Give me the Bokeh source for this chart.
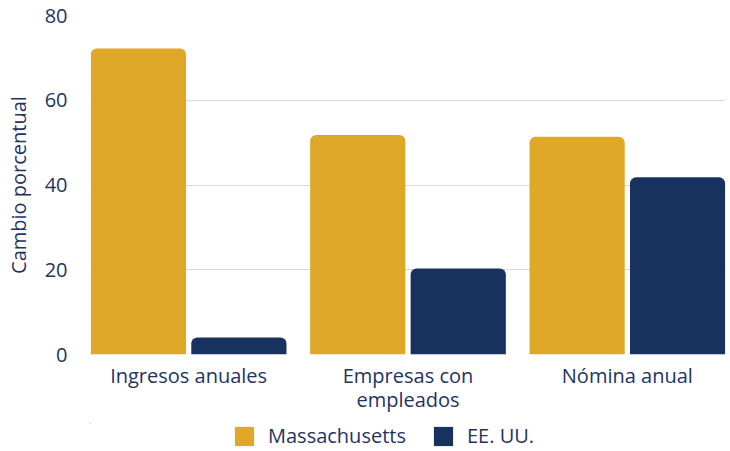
from bokeh.plotting import figure
from bokeh.layouts import column
from bokeh.models import ColumnDataSource, Legend, LegendItem, FixedTicker, Range1d
from bokeh.embed import file_html
from bokeh.resources import INLINE

categories = ["Ingresos anuales", "Empresas con\nempleados", "Nómina anual"]
massachusetts = [72.2, 51.8, 51.4]
eeuu = [4.0, 20.3, 41.8]
series_names = ["Massachusetts", "EE. UU."]
y_ticks = [0, 20, 40, 60, 80]

GOLD = "#DFA828"
NAVY = "#18325F"
TEXT = "#1F3462"
FONT = "Open Sans"

x = list(range(len(categories)))
offset = 0.229
bw = 0.434

p = figure(width=730, height=423, output_backend="svg", toolbar_location=None,
           x_range=Range1d(-0.4475, 2.4475), y_range=Range1d(0, 80),
           min_border_left=90, min_border_right=5, min_border_top=15, min_border_bottom=69)
p.outline_line_color = None

src_ma = ColumnDataSource(dict(x=[v - offset for v in x], top=massachusetts))
src_us = ColumnDataSource(dict(x=[v + offset for v in x], top=eeuu))
p.vbar(x="x", top="top", width=bw, source=src_ma, fill_color=GOLD, line_color=None,
       border_radius=(6, 6, 0, 0))
p.vbar(x="x", top="top", width=bw, source=src_us, fill_color=NAVY, line_color=None,
       border_radius=(6, 6, 0, 0))

p.yaxis.ticker = FixedTicker(ticks=y_ticks)
p.xaxis.ticker = FixedTicker(ticks=x)
p.xaxis.major_label_overrides = {i: c for i, c in enumerate(categories)}
for ax in (p.xaxis[0], p.yaxis[0]):
    ax.axis_line_color = None
    ax.major_tick_line_color = None
    ax.minor_tick_line_color = None
    ax.major_label_text_font = FONT
    ax.major_label_text_font_size = "20px"
    ax.major_label_text_color = TEXT
p.xaxis.major_label_standoff = 1
p.xaxis.major_label_text_line_height = 0.9
p.yaxis.major_label_standoff = 17
p.yaxis.axis_label = "Cambio porcentual"
p.yaxis.axis_label_text_font = FONT
p.yaxis.axis_label_text_font_size = "20px"
p.yaxis.axis_label_text_font_style = "normal"
p.yaxis.axis_label_text_color = TEXT
p.yaxis.axis_label_standoff = 10
p.xgrid.grid_line_color = None
p.ygrid.grid_line_color = "#D5D9E3"
p.ygrid.grid_line_width = 1

# legend in a small strip below the chart; its bars fall far outside the strip's ranges
lg = figure(width=730, height=28, output_backend="svg", toolbar_location=None,
            x_range=Range1d(1000, 1001), y_range=Range1d(-1000, -999),
            x_axis_type=None, y_axis_type=None,
            min_border_left=0, min_border_right=0, min_border_top=0, min_border_bottom=0)
lg.outline_line_color = None
lg.xgrid.grid_line_color = None
lg.ygrid.grid_line_color = None
e1 = lg.vbar(x="x", top="top", width=bw, source=src_ma, fill_color=GOLD, line_color=None)
e2 = lg.vbar(x="x", top="top", width=bw, source=src_us, fill_color=NAVY, line_color=None)

legend = Legend(items=[LegendItem(label=series_names[0], renderers=[e1]),
                       LegendItem(label=series_names[1], renderers=[e2])],
                orientation="horizontal", location=(142, 2))
legend.label_text_font = FONT
legend.label_text_font_size = "20px"
legend.label_text_color = TEXT
legend.glyph_width = 24
legend.glyph_height = 24
legend.spacing = 25
legend.label_standoff = 12
legend.border_line_color = None
legend.background_fill_alpha = 0
legend.padding = 0
legend.margin = 0
lg.add_layout(legend, "center")

layout = column(p, lg, spacing=0)
open("out.html", "w").write(file_html(layout, INLINE))
